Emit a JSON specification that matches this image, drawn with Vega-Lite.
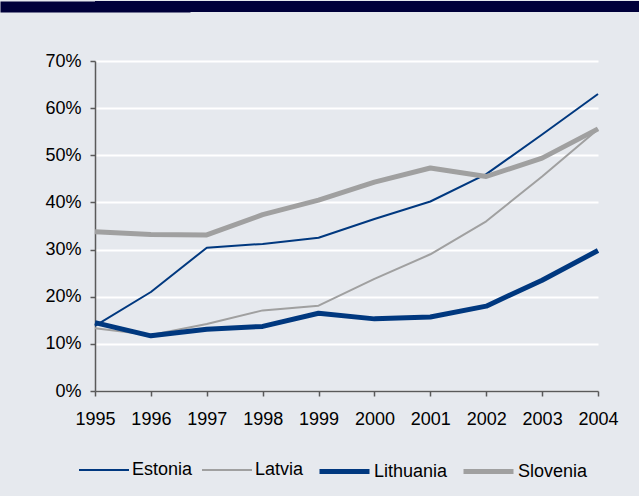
{
  "$schema": "https://vega.github.io/schema/vega-lite/v6.json",
  "background": "#e6e9ee",
  "padding": {"left": 0, "top": 0, "right": 0, "bottom": 14},
  "columns": 1,
  "spacing": 40,
  "concat": [
    {
      "width": 544,
      "height": 11,
      "view": {"fill": "#00003a", "stroke": null},
      "data": {"values": [{"t": "", "h": 0}]},
      "mark": {"type": "text"},
      "encoding": {
        "text": {"field": "t"},
        "y": {
          "field": "h",
          "type": "quantitative",
          "axis": {
            "title": null,
            "labels": false,
            "ticks": false,
            "grid": false,
            "domain": true,
            "domainColor": "#00003a",
            "domainWidth": 190,
            "minExtent": 95,
            "maxExtent": 95
          }
        }
      }
    },
    {
      "width": 503,
      "height": 330,
      "view": {"stroke": null},
      "data": {
        "values": [
          {"year": 1995, "country": "Estonia", "v": 0.138},
          {"year": 1996, "country": "Estonia", "v": 0.21},
          {"year": 1997, "country": "Estonia", "v": 0.304},
          {"year": 1998, "country": "Estonia", "v": 0.312},
          {"year": 1999, "country": "Estonia", "v": 0.325},
          {"year": 2000, "country": "Estonia", "v": 0.365},
          {"year": 2001, "country": "Estonia", "v": 0.402},
          {"year": 2002, "country": "Estonia", "v": 0.46},
          {"year": 2003, "country": "Estonia", "v": 0.544},
          {"year": 2004, "country": "Estonia", "v": 0.63},
          {"year": 1995, "country": "Latvia", "v": 0.133},
          {"year": 1996, "country": "Latvia", "v": 0.119},
          {"year": 1997, "country": "Latvia", "v": 0.142},
          {"year": 1998, "country": "Latvia", "v": 0.171},
          {"year": 1999, "country": "Latvia", "v": 0.181},
          {"year": 2000, "country": "Latvia", "v": 0.238},
          {"year": 2001, "country": "Latvia", "v": 0.29},
          {"year": 2002, "country": "Latvia", "v": 0.36},
          {"year": 2003, "country": "Latvia", "v": 0.455},
          {"year": 2004, "country": "Latvia", "v": 0.555},
          {"year": 1995, "country": "Lithuania", "v": 0.145},
          {"year": 1996, "country": "Lithuania", "v": 0.117},
          {"year": 1997, "country": "Lithuania", "v": 0.131},
          {"year": 1998, "country": "Lithuania", "v": 0.137},
          {"year": 1999, "country": "Lithuania", "v": 0.165},
          {"year": 2000, "country": "Lithuania", "v": 0.153},
          {"year": 2001, "country": "Lithuania", "v": 0.157},
          {"year": 2002, "country": "Lithuania", "v": 0.18},
          {"year": 2003, "country": "Lithuania", "v": 0.235},
          {"year": 2004, "country": "Lithuania", "v": 0.298},
          {"year": 1995, "country": "Slovenia", "v": 0.338},
          {"year": 1996, "country": "Slovenia", "v": 0.332},
          {"year": 1997, "country": "Slovenia", "v": 0.331},
          {"year": 1998, "country": "Slovenia", "v": 0.374},
          {"year": 1999, "country": "Slovenia", "v": 0.405},
          {"year": 2000, "country": "Slovenia", "v": 0.443},
          {"year": 2001, "country": "Slovenia", "v": 0.473},
          {"year": 2002, "country": "Slovenia", "v": 0.455},
          {"year": 2003, "country": "Slovenia", "v": 0.494},
          {"year": 2004, "country": "Slovenia", "v": 0.556}
        ]
      },
      "mark": {"type": "line", "strokeJoin": "round"},
      "encoding": {
        "x": {
          "field": "year",
          "type": "ordinal",
          "scale": {"type": "point", "padding": 0},
          "axis": {
            "title": null,
            "labelAngle": 0,
            "labelPadding": 14,
            "grid": false
          }
        },
        "y": {
          "field": "v",
          "type": "quantitative",
          "scale": {"domain": [0, 0.7], "nice": false},
          "axis": {
            "title": null,
            "format": ".0%",
            "values": [0, 0.1, 0.2, 0.3, 0.4, 0.5, 0.6, 0.7],
            "grid": true,
            "gridColor": "#ffffff",
            "gridWidth": 2,
            "gridOpacity": 1,
            "labelPadding": 9,
            "minExtent": 95,
            "maxExtent": 95
          }
        },
        "color": {
          "field": "country",
          "type": "nominal",
          "title": null,
          "scale": {
            "domain": ["Estonia", "Latvia", "Lithuania", "Slovenia"],
            "range": ["#00387f", "#a0a0a0", "#00387f", "#a0a0a0"]
          },
          "legend": {
            "orient": "none",
            "legendX": -17,
            "legendY": 443,
            "direction": "horizontal",
            "gridAlign": "none"
          }
        },
        "strokeWidth": {
          "field": "country",
          "type": "nominal",
          "title": null,
          "scale": {
            "type": "ordinal",
            "domain": ["Estonia", "Latvia", "Lithuania", "Slovenia"],
            "range": [2, 2, 5, 5]
          },
          "legend": {
            "orient": "none",
            "legendX": -17,
            "legendY": 443,
            "direction": "horizontal",
            "gridAlign": "none"
          }
        }
      }
    }
  ],
  "config": {
    "font": "Liberation Sans",
    "axis": {
      "labelFont": "Liberation Sans",
      "labelFontSize": 18,
      "labelColor": "#000000",
      "domainColor": "#5a5a5a",
      "domainWidth": 1.5,
      "tickColor": "#5a5a5a",
      "tickWidth": 1.5,
      "tickSize": 5
    },
    "legend": {
      "padding": 0,
      "symbolType": "stroke",
      "symbolSize": 2500,
      "labelFont": "Liberation Sans",
      "labelFontSize": 18,
      "labelColor": "#000000",
      "labelOffset": 2,
      "columnPadding": 5
    }
  }
}
